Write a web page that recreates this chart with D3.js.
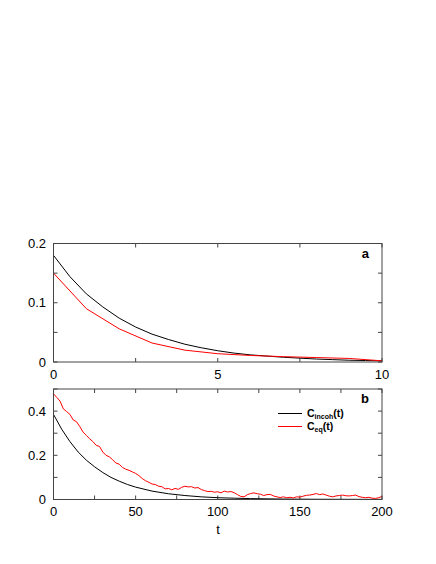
<!DOCTYPE html>
<html>
<head>
<meta charset="utf-8">
<script src="https://cdn.jsdelivr.net/npm/d3@7"></script>
<style>
  body { margin: 0; background: #fff; }
  text { font-family: "Liberation Sans", Arial, sans-serif; }
</style>
</head>
<body>
<div id="chart"></div>
<script>
// panel a data
var tA = [0, 0.5, 1, 1.5, 2, 2.5, 3, 3.5, 4, 4.5, 5, 5.5, 6, 6.5, 7, 7.5, 8, 8.5, 9, 9.5, 10];
var incohA = [0.180, 0.144, 0.115, 0.093, 0.074, 0.059, 0.047, 0.038, 0.030, 0.024, 0.019,
              0.015, 0.012, 0.010, 0.008, 0.0065, 0.005, 0.004, 0.003, 0.0025, 0.002];
var tA2 = [0, 1, 2, 3, 4, 5, 6, 7, 8, 9, 10];
var eqA = [0.150, 0.090, 0.056, 0.032, 0.020, 0.014, 0.011, 0.009, 0.0075, 0.006, 0.002];

// panel b data
var tB = [0, 5, 10, 15, 20, 25, 30, 35, 40, 45, 50, 60, 70, 80, 90, 100, 110, 120, 140, 160, 200];
var incohB = [0.385, 0.318, 0.262, 0.215, 0.178, 0.148, 0.122, 0.100, 0.083, 0.068, 0.056,
              0.038, 0.026, 0.018, 0.012, 0.008, 0.006, 0.004, 0.002, 0.001, 0.0005];
var tB2 = d3.range(0, 201, 2);
var eqB = [0.478, 0.462, 0.445, 0.410, 0.398, 0.385, 0.360, 0.352, 0.330, 0.305,
           0.290, 0.275, 0.262, 0.245, 0.240, 0.215, 0.200, 0.193, 0.180, 0.165,
           0.160, 0.145, 0.137, 0.132, 0.125, 0.118, 0.108, 0.095, 0.085, 0.078,
           0.070, 0.068, 0.060, 0.058, 0.048, 0.050, 0.044, 0.050, 0.046, 0.055,
           0.060, 0.057, 0.058, 0.052, 0.054, 0.045, 0.040, 0.036, 0.037, 0.033,
           0.035, 0.030, 0.038, 0.034, 0.036, 0.031, 0.022, 0.014, 0.012, 0.022,
           0.027, 0.030, 0.026, 0.024, 0.018, 0.022, 0.023, 0.016, 0.012, 0.009,
           0.012, 0.008, 0.010, 0.007, 0.012, 0.011, 0.015, 0.019, 0.020, 0.023,
           0.027, 0.022, 0.025, 0.020, 0.015, 0.012, 0.016, 0.018, 0.020, 0.017,
           0.016, 0.018, 0.020, 0.013, 0.010, 0.008, 0.010, 0.006, 0.005, 0.008,
           0.014];

var legendLabels = [["C", "incoh", "(t)"], ["C", "eq", "(t)"]];

var width = 436, height = 564;
var left = 53.5, right = 382;
var svg = d3.select("#chart").append("svg")
    .attr("width", width)
    .attr("height", height);

svg.append("rect").attr("width", width).attr("height", height).attr("fill", "#fff");

var frameColor = "#444";

function panel(opts) {
  var x = d3.scaleLinear().domain(opts.xDomain).range([left, right]);
  var y = d3.scaleLinear().domain(opts.yDomain).range([opts.bottom, opts.top]);
  var g = svg.append("g");

  // ticks on all four sides, pointing inward
  var xt = d3.range(opts.xDomain[0], opts.xDomain[1] + 1e-9, opts.xMinor);
  var yt = d3.range(opts.yDomain[0], opts.yDomain[1] + 1e-9, opts.yMinor);
  var tl = 4;
  xt.forEach(function(v) {
    g.append("line").attr("x1", x(v)).attr("x2", x(v)).attr("y1", opts.bottom).attr("y2", opts.bottom - tl)
      .attr("stroke", frameColor);
    g.append("line").attr("x1", x(v)).attr("x2", x(v)).attr("y1", opts.top).attr("y2", opts.top + tl)
      .attr("stroke", frameColor);
  });
  yt.forEach(function(v) {
    g.append("line").attr("x1", left).attr("x2", left + tl).attr("y1", y(v)).attr("y2", y(v))
      .attr("stroke", frameColor);
    g.append("line").attr("x1", right).attr("x2", right - tl).attr("y1", y(v)).attr("y2", y(v))
      .attr("stroke", frameColor);
  });

  g.selectAll(".xl").data(opts.xLabels).enter().append("text")
    .attr("x", function(d) { return x(d); })
    .attr("y", opts.bottom + 16.5)
    .attr("text-anchor", "middle")
    .attr("font-size", 13)
    .text(function(d) { return d; });
  g.selectAll(".yl").data(opts.yLabels).enter().append("text")
    .attr("x", 46)
    .attr("y", function(d) { return y(d) + 4.5; })
    .attr("text-anchor", "end")
    .attr("font-size", 13)
    .text(function(d) { return d; });

  var line = d3.line().x(function(d) { return x(d[0]); }).y(function(d) { return y(d[1]); });
  opts.series.forEach(function(s) {
    g.append("path")
      .datum(d3.zip(s.t, s.v))
      .attr("d", line)
      .attr("fill", "none")
      .attr("stroke", s.color)
      .attr("stroke-width", 1);
  });

  g.append("rect")
    .attr("x", left).attr("y", opts.top)
    .attr("width", right - left).attr("height", opts.bottom - opts.top)
    .attr("fill", "none").attr("stroke", frameColor).attr("stroke-width", 1);

  g.append("text")
    .attr("x", 369).attr("y", opts.top + 14)
    .attr("text-anchor", "end")
    .attr("font-size", 13).attr("font-weight", "bold")
    .text(opts.name);
  return {x: x, y: y};
}

panel({
  xDomain: [0, 10], yDomain: [0, 0.2], top: 243.5, bottom: 362,
  xMinor: 2.5, yMinor: 0.05,
  xLabels: [0, 5, 10], yLabels: [0, 0.1, 0.2],
  series: [{t: tA, v: incohA, color: "#000"}, {t: tA2, v: eqA, color: "#f00"}],
  name: "a"
});

panel({
  xDomain: [0, 200], yDomain: [0, 0.5], top: 389, bottom: 499.5,
  xMinor: 25, yMinor: 0.1,
  xLabels: [0, 50, 100, 150, 200], yLabels: [0, 0.2, 0.4],
  series: [{t: tB, v: incohB, color: "#000"}, {t: tB2, v: eqB, color: "#f00"}],
  name: "b"
});

// x axis title
svg.append("text")
  .attr("x", 218).attr("y", 534)
  .attr("text-anchor", "middle")
  .attr("font-size", 13)
  .text("t");

// legend
var lg = svg.selectAll(".legend").data(legendLabels).enter().append("g")
  .attr("transform", function(d, i) { return "translate(0," + (413.5 + i * 13) + ")"; });
lg.append("line")
  .attr("x1", 278).attr("x2", 302)
  .attr("stroke", function(d, i) { return i === 0 ? "#000" : "#f00"; });
var lt = lg.append("text")
  .attr("x", 307).attr("y", 3)
  .attr("font-size", 10.5).attr("font-weight", "bold");
lt.append("tspan").text(function(d) { return d[0]; });
lt.append("tspan").attr("font-size", 7).attr("dy", 2).text(function(d) { return d[1]; });
lt.append("tspan").attr("dy", -2).text(function(d) { return d[2]; });
</script>
</body>
</html>
